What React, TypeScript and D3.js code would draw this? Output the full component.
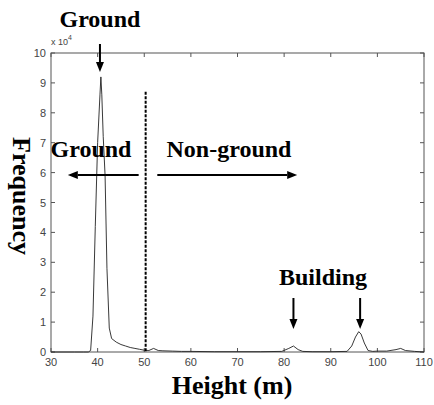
import React, { useEffect, useRef } from 'react';
import * as d3 from 'd3';

// height (m) and frequency (x 10^4)
const heights = [30, 35, 37, 38, 38.5, 39, 39.5, 40, 40.5, 40.7, 40.9, 41.2, 41.6, 42, 42.5, 43, 44, 45, 46, 47, 48, 49, 50, 51, 52, 53, 54, 56, 58, 60, 65, 70, 75, 79.5, 81, 82, 83, 84, 86, 90, 93.5, 94.5, 95.3, 96, 96.5, 97.2, 98, 99, 100, 102, 104, 105, 106, 108, 110];
const counts = [0, 0, 0, 0, 0.05, 1.2, 4.2, 7.0, 8.6, 9.2, 8.6, 7.2, 5.9, 2.8, 0.8, 0.45, 0.33, 0.25, 0.2, 0.15, 0.12, 0.09, 0.06, 0.05, 0.12, 0.05, 0.04, 0.03, 0.02, 0.02, 0.01, 0.01, 0.01, 0.02, 0.12, 0.2, 0.08, 0.02, 0.01, 0.01, 0.02, 0.2, 0.5, 0.68, 0.6, 0.3, 0.05, 0.02, 0.03, 0.03, 0.08, 0.12, 0.05, 0.02, 0];

const xTicks = [30, 40, 50, 60, 70, 80, 90, 100, 110];
const yTicks = [0, 1, 2, 3, 4, 5, 6, 7, 8, 9, 10];

const splitAt = 50.3; // ground / non-ground threshold
const groundPeak = 40.5;
const buildingPeaks = [82, 96.3];

function App() {
  const svgRef = useRef<SVGSVGElement>(null);

  useEffect(() => {
    const svg = d3.select(svgRef.current);
    svg.selectAll('*').remove();

    const width = 434;
    const height = 405;
    const margin = { top: 53, right: 10, bottom: 53, left: 51 };
    const x = d3.scaleLinear().domain([30, 110]).range([margin.left, width - margin.right]);
    const y = d3.scaleLinear().domain([0, 10]).range([height - margin.bottom, margin.top]);
    const serif = 'Liberation Serif, Times New Roman, serif';
    const sans = 'Liberation Sans, Arial, sans-serif';

    svg.attr('width', width).attr('height', height);

    // frame with inward ticks on all sides
    const box = svg.append('g').attr('stroke', '#555').attr('stroke-width', 1).attr('fill', 'none');
    box.append('rect')
      .attr('x', x(30)).attr('y', y(10))
      .attr('width', x(110) - x(30)).attr('height', y(0) - y(10));

    box.selectAll('.xt').data(xTicks).enter().append('path')
      .attr('d', d => `M${x(d)},${y(0)}v-4M${x(d)},${y(10)}v4`);
    box.selectAll('.yt').data(yTicks).enter().append('path')
      .attr('d', d => `M${x(30)},${y(d)}h4M${x(110)},${y(d)}h-4`);

    svg.selectAll('.xl').data(xTicks).enter().append('text')
      .attr('x', d => x(d)).attr('y', y(0) + 14)
      .attr('text-anchor', 'middle')
      .attr('font-family', sans).attr('font-size', 11).attr('fill', '#444')
      .text(d => d);
    svg.selectAll('.yl').data(yTicks).enter().append('text')
      .attr('x', x(30) - 5).attr('y', d => y(d) + 4)
      .attr('text-anchor', 'end')
      .attr('font-family', sans).attr('font-size', 11).attr('fill', '#444')
      .text(d => d);

    const exp = svg.append('text')
      .attr('x', x(30)).attr('y', y(10) - 8)
      .attr('font-family', sans).attr('font-size', 9).attr('fill', '#444');
    exp.append('tspan').text('x 10');
    exp.append('tspan').attr('dy', -5).attr('font-size', 7).text('4');

    // histogram curve
    const line = d3.line<number>()
      .x((d, i) => x(heights[i]))
      .y(d => y(d));
    svg.append('path')
      .datum(counts)
      .attr('d', line)
      .attr('fill', 'none')
      .attr('stroke', '#222')
      .attr('stroke-width', 0.9);

    // threshold
    svg.append('line')
      .attr('x1', x(splitAt)).attr('x2', x(splitAt))
      .attr('y1', y(8.7)).attr('y2', y(0))
      .attr('stroke', '#000').attr('stroke-width', 2)
      .attr('stroke-dasharray', '3,1.5');

    // arrows
    const arrow = (x1: number, y1: number, x2: number, y2: number) => {
      const ang = Math.atan2(y2 - y1, x2 - x1);
      const len = 10, half = 4;
      const bx = x2 - len * Math.cos(ang), by = y2 - len * Math.sin(ang);
      const px = -Math.sin(ang) * half, py = Math.cos(ang) * half;
      svg.append('line')
        .attr('x1', x1).attr('y1', y1).attr('x2', bx).attr('y2', by)
        .attr('stroke', '#000').attr('stroke-width', 2);
      svg.append('path')
        .attr('d', `M${x2},${y2}L${bx + px},${by + py}L${bx - px},${by - py}Z`)
        .attr('fill', '#000');
    };
    arrow(x(groundPeak), 44, x(groundPeak), 72);
    arrow(x(48.8), y(5.92), x(33.6), y(5.92));
    arrow(x(52.8), y(5.92), x(82.8), y(5.92));
    buildingPeaks.forEach(p => arrow(x(p), 298, x(p), 329));

    const label = (tx: number, ty: number, t: string, size = 24) =>
      svg.append('text')
        .attr('x', tx).attr('y', ty)
        .attr('text-anchor', 'middle')
        .attr('font-family', serif).attr('font-weight', 'bold')
        .attr('font-size', size).attr('fill', '#000')
        .text(t);

    label(x(groundPeak), 27, 'Ground');
    label(91, 157, 'Ground');
    label(229, 157, 'Non-ground');
    label(323, 285, 'Building');
    label(232, 394, 'Height (m)', 26);

    svg.append('text')
      .attr('transform', 'translate(13,196) rotate(90)')
      .attr('text-anchor', 'middle')
      .attr('font-family', serif).attr('font-weight', 'bold')
      .attr('font-size', 26).attr('fill', '#000')
      .text('Frequency');
  }, []);

  return (
    <div style={{ position: 'absolute', left: 0, top: 0, background: '#fff' }}>
      <svg ref={svgRef}></svg>
    </div>
  );
}

export default App;
